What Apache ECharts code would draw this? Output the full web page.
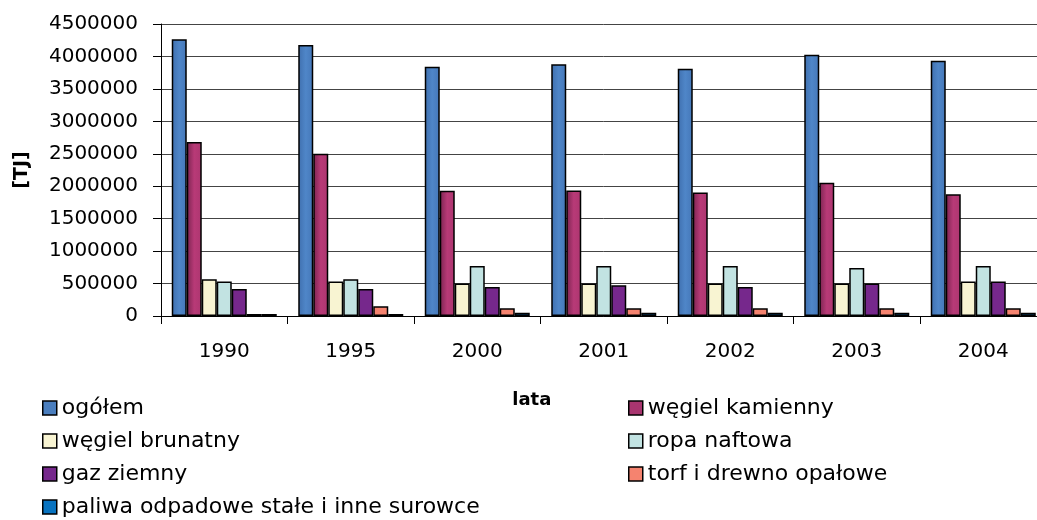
<!DOCTYPE html>
<html>
<head>
<meta charset="utf-8">
<script src="https://cdn.jsdelivr.net/npm/echarts@6/dist/echarts.min.js"></script>
<style>html,body{margin:0;padding:0;background:#fff;overflow:hidden;width:1037px;height:520px;}#c{width:1050px;height:520px;}</style>
</head>
<body>
<div id="c"></div>
<script>
const categories = ['1990','1995','2000','2001','2002','2003','2004'];
const seriesNames = ['ogółem','węgiel kamienny','węgiel brunatny','ropa naftowa','gaz ziemny','torf i drewno opałowe','paliwa odpadowe stałe i inne surowce'];
const ogolem = [4265000, 4177000, 3843000, 3880000, 3812000, 4028000, 3935000];
const wegielKamienny = [2680000, 2500000, 1929000, 1935000, 1904000, 2052000, 1878000];
const wegielBrunatny = [566000, 531000, 500000, 500000, 500000, 500000, 531000];
const ropaNaftowa = [531000, 566000, 772000, 772000, 772000, 741000, 772000];
const gazZiemny = [417000, 417000, 448000, 474000, 448000, 500000, 531000];
const torf = [31000, 150000, 119000, 119000, 119000, 119000, 119000];
const paliwa = [31000, 31000, 52000, 52000, 52000, 52000, 52000];
const yTicks = [0, 500000, 1000000, 1500000, 2000000, 2500000, 3000000, 3500000, 4000000, 4500000];

const values = [ogolem, wegielKamienny, wegielBrunatny, ropaNaftowa, gazZiemny, torf, paliwa];
function grad(a, b, c) {
  return new echarts.graphic.LinearGradient(0, 0, 1, 0, [
    {offset: 0, color: a}, {offset: 0.5, color: b}, {offset: 1, color: c}
  ]);
}
const colors = [
  grad('#3f6fae', '#4f86c8', '#4577b8'),
  grad('#7a2450', '#b83a77', '#ad3670'),
  '#f8f4d2',
  '#c2e3e2',
  '#76288c',
  '#f5836f',
  '#0873c0'
];
const legendColors = ['#4a7ebe', '#a8356f', '#f8f4d2', '#c2e3e2', '#76288c', '#f5836f', '#0873c0'];
const FONT = 'DejaVu Sans, Verdana, sans-serif';

const chart = echarts.init(document.getElementById('c'), null, {renderer: 'canvas'});
const series = seriesNames.map((n, i) => ({
  name: n,
  type: 'bar',
  data: values[i],
  barWidth: 15,
  barGap: '0%',
  itemStyle: {color: colors[i], borderColor: '#000', borderWidth: 1.5},
  emphasis: {disabled: true}
}));
const legendText = {fontFamily: FONT, fontSize: 22, lineHeight: 22, color: '#000'};
function legendItems(parity) {
  return seriesNames.filter((_, i) => i % 2 === parity).map((n) => ({
    name: n,
    itemStyle: {color: legendColors[seriesNames.indexOf(n)], borderColor: '#000', borderWidth: 1.5}
  }));
}
chart.setOption({
  animation: false,
  textStyle: {fontFamily: FONT},
  grid: {left: 161, top: 24, width: 885.5, height: 292, containLabel: false},
  legend: [
    {
      data: legendItems(0),
      orient: 'vertical', left: 42, top: 397, height: 123, padding: 0, itemWidth: 14, itemHeight: 14, itemGap: 11,
      icon: 'rect', textStyle: legendText, selectedMode: false
    },
    {
      data: legendItems(1),
      orient: 'vertical', left: 628, top: 397, height: 123, padding: 0, itemWidth: 14, itemHeight: 14, itemGap: 11,
      icon: 'rect', textStyle: legendText, selectedMode: false
    }
  ],
  xAxis: {
    type: 'category',
    data: categories,
    name: 'lata',
    nameLocation: 'middle',
    nameGap: 75,
    nameTextStyle: {fontFamily: FONT, fontSize: 18, fontWeight: 'bold', color: '#000', padding: [0, 144, 0, 0]},
    axisLine: {lineStyle: {color: '#000', width: 1}},
    axisTick: {show: true, length: 8, lineStyle: {color: '#000'}},
    axisLabel: {fontFamily: FONT, fontSize: 20, color: '#000', margin: 26},
    splitLine: {show: false}
  },
  yAxis: {
    type: 'value',
    min: 0, max: 4500000, interval: 500000,
    name: '[TJ]',
    nameLocation: 'middle',
    nameRotate: 90,
    nameGap: 129,
    nameTextStyle: {fontFamily: FONT, fontSize: 19, fontWeight: 'bold', color: '#000'},
    axisLine: {show: true, lineStyle: {color: '#000', width: 1}},
    axisTick: {show: true, length: 8, lineStyle: {color: '#000'}},
    axisLabel: {fontFamily: FONT, fontSize: 20, color: '#000', margin: 23,
      formatter: (v) => yTicks.includes(v) ? String(v) : ''},
    splitLine: {show: true, lineStyle: {color: '#444', width: 1}}
  },
  series: series
});
</script>
</body>
</html>
